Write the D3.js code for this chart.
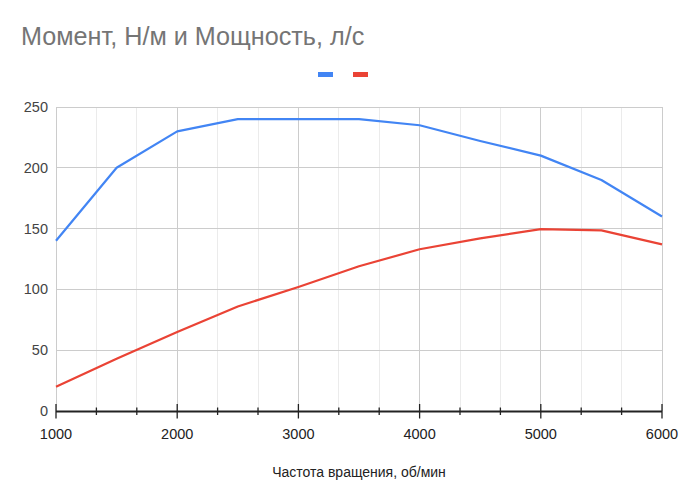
<!DOCTYPE html>
<html><head><meta charset="utf-8">
<script src="https://cdn.jsdelivr.net/npm/d3@7"></script>
<style>body{margin:0;background:#fff;} svg{display:block;}</style>
</head><body>
<svg id="c" width="688" height="501"></svg>
<script>
const rpm = [1000,1500,2000,2500,3000,3500,4000,4500,5000,5500,6000];
const torque = [140,200,230,240,240,240,235,222,210,190,160];
const power = [20,43,65,86,102,119,133,142,149.5,148.5,137];
const xTicks = [1000,2000,3000,4000,5000,6000];
const yTicks = [0,50,100,150,200,250];
const title = "Момент, Н/м и Мощность, л/с";
const xTitle = "Частота вращения, об/мин";
const colors = ["#4285F4","#EA4335"];

const svg = d3.select("#c");
const F = "Arial, 'Liberation Sans', sans-serif";
const x = d3.scaleLinear().domain([1000,6000]).range([56,662]);
const y = d3.scaleLinear().domain([0,250]).range([411,107]);

// minor vertical grid
const minor = [];
for (let i=0;i<5;i++){ const a=xTicks[i]; minor.push(a+1000/3, a+2000/3); }
svg.append("g").selectAll("line").data(minor).join("line")
  .attr("x1",d=>x(d)).attr("x2",d=>x(d)).attr("y1",y(250)).attr("y2",y(0))
  .attr("stroke","#ebebeb").attr("stroke-width",1).attr("shape-rendering","crispEdges");
// major vertical grid
svg.append("g").selectAll("line").data(xTicks).join("line")
  .attr("x1",d=>x(d)).attr("x2",d=>x(d)).attr("y1",y(250)).attr("y2",y(0))
  .attr("stroke","#cccccc").attr("stroke-width",1).attr("shape-rendering","crispEdges");
// horizontal grid
svg.append("g").selectAll("line").data(yTicks.filter(d=>d>0)).join("line")
  .attr("x1",x(1000)).attr("x2",x(6000)).attr("y1",d=>y(d)).attr("y2",d=>y(d))
  .attr("stroke","#cccccc").attr("stroke-width",1).attr("shape-rendering","crispEdges");

// x axis line and ticks
svg.append("line").attr("x1",x(1000)).attr("x2",x(6000)).attr("y1",y(0)+0.5).attr("y2",y(0)+0.5)
  .attr("stroke","#222").attr("stroke-width",2);
svg.append("g").selectAll("line").data(minor).join("line")
  .attr("x1",d=>x(d)).attr("x2",d=>x(d)).attr("y1",y(0)-3.5).attr("y2",y(0)+4)
  .attr("stroke","#222").attr("stroke-width",1.3);
svg.append("g").selectAll("line").data(xTicks).join("line")
  .attr("x1",d=>x(d)).attr("x2",d=>x(d)).attr("y1",y(0)-7).attr("y2",y(0)+7.5)
  .attr("stroke","#222").attr("stroke-width",1.3);

// tick labels
svg.append("g").selectAll("text").data(yTicks).join("text")
  .attr("x",48).attr("y",d=>y(d)+5).attr("text-anchor","end")
  .attr("font-family",F).attr("font-size",14.5).attr("fill","#444").text(d=>d);
svg.append("g").selectAll("text").data(xTicks).join("text")
  .attr("x",d=>x(d)).attr("y",439).attr("text-anchor","middle")
  .attr("font-family",F).attr("font-size",14.5).attr("fill","#222").text(d=>d);

// axis title
svg.append("text").attr("x",359).attr("y",477).attr("text-anchor","middle")
  .attr("font-family",F).attr("font-size",14).attr("fill","#222").text(xTitle);

// lines
const line = d3.line().x((d,i)=>x(rpm[i])).y(d=>y(d));
[torque,power].forEach((s,k)=>{
  svg.append("path").datum(s).attr("d",line).attr("fill","none")
    .attr("stroke",colors[k]).attr("stroke-width",2.2).attr("stroke-linejoin","round");
});

// title
svg.append("text").attr("x",21).attr("y",45).attr("font-family",F).attr("font-size",25.2)
  .attr("fill","#757575").text(title);

// legend
svg.append("g").selectAll("rect").data(colors).join("rect")
  .attr("x",(d,i)=>318+i*35).attr("y",72).attr("width",15).attr("height",5).attr("fill",d=>d);
</script>
</body></html>
